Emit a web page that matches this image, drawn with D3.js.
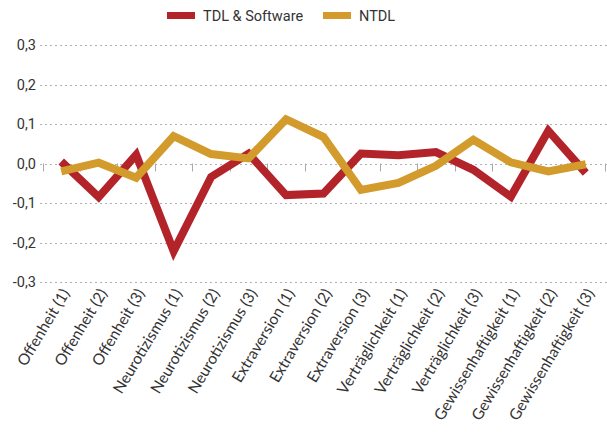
<!DOCTYPE html>
<html>

<head>
  <meta charset="utf-8">
  <script src="https://d3js.org/d3.v7.min.js"></script>
  <style>
    body { margin: 0; background: #fff; }
    text { fill: #333; }
    .narrow { font-family: Roboto, "Open Sans", sans-serif; }
    .cat { font-family: Lato, "Open Sans", sans-serif; }
  </style>
</head>

<body>

  <div id="chart"></div>

  <script>
    const width = 607;
    const height = 434;

    const categories = [
      "Offenheit (1)", "Offenheit (2)", "Offenheit (3)",
      "Neurotizismus (1)", "Neurotizismus (2)", "Neurotizismus (3)",
      "Extraversion (1)", "Extraversion (2)", "Extraversion (3)",
      "Verträglichkeit (1)", "Verträglichkeit (2)", "Verträglichkeit (3)",
      "Gewissenhaftigkeit (1)", "Gewissenhaftigkeit (2)", "Gewissenhaftigkeit (3)"
    ];
    const tdlSoftware = [0.005, -0.085, 0.022, -0.222, -0.034, 0.025, -0.080, -0.076, 0.025, 0.021, 0.029, -0.016, -0.084, 0.083, -0.024];
    const ntdl = [-0.020, 0.002, -0.036, 0.069, 0.024, 0.013, 0.112, 0.067, -0.067, -0.049, -0.006, 0.060, 0.003, -0.020, -0.002];
    const yTicks = [-0.3, -0.2, -0.1, 0, 0.1, 0.2, 0.3];
    const seriesNames = ["TDL & Software", "NTDL"];
    const colors = ["#b3232a", "#d29b2b"];

    const svg = d3.select("#chart")
      .append("svg")
      .attr("width", width)
      .attr("height", height);

    const x = d3.scaleBand()
      .domain(categories)
      .range([42.5, 604.5]);

    const y = d3.scaleLinear()
      .domain([-0.3, 0.3])
      .range([282, 45]);

    // grid lines
    svg.append("g")
      .selectAll("line")
      .data(yTicks)
      .enter().append("line")
      .attr("x1", 40)
      .attr("x2", width)
      .attr("y1", d => Math.round(y(d)) + 0.5)
      .attr("y2", d => Math.round(y(d)) + 0.5)
      .attr("stroke", "#b0b0b0")
      .attr("stroke-width", 1)
      .attr("stroke-dasharray", "2,3");

    // y labels
    svg.append("g")
      .selectAll("text")
      .data(yTicks)
      .enter().append("text")
      .attr("class", "narrow")
      .attr("x", 36)
      .attr("y", d => y(d) + 5)
      .attr("text-anchor", "end")
      .style("font-size", "14.5px")
      .text(d => d3.format(".1f")(d).replace(".", ",").replace("−", "-"));

    // category ticks on the zero line
    const bounds = categories.map(c => x(c)).concat([x.range()[1]]);
    svg.append("g")
      .selectAll("line")
      .data(bounds)
      .enter().append("line")
      .attr("x1", d => Math.round(d) + 0.5)
      .attr("x2", d => Math.round(d) + 0.5)
      .attr("y1", y(0))
      .attr("y2", y(0) + 8)
      .attr("stroke", "#aaa")
      .attr("stroke-width", 1);

    // category labels
    svg.append("g")
      .selectAll("text")
      .data(categories)
      .enter().append("text")
      .attr("class", "cat")
      .attr("text-anchor", "end")
      .attr("transform", d => "translate(" + (x(d) + x.bandwidth() / 2 + 9) + ",293) rotate(-59)")
      .style("font-size", "15.5px")
      .text(d => d);

    // lines
    const line = d3.line()
      .x((d, i) => x(categories[i]) + x.bandwidth() / 2)
      .y(d => y(d));

    [tdlSoftware, ntdl].forEach((vals, k) => {
      svg.append("path")
        .datum(vals)
        .attr("d", line)
        .attr("fill", "none")
        .attr("stroke", colors[k])
        .attr("stroke-width", 8)
        .attr("stroke-linejoin", "miter");
    });

    // legend
    const legX = [167, 323];
    const leg = svg.append("g")
      .selectAll("g")
      .data(seriesNames)
      .enter().append("g")
      .attr("transform", (d, i) => "translate(" + legX[i] + ",0)");

    leg.append("rect")
      .attr("x", 0)
      .attr("y", 12)
      .attr("width", 28)
      .attr("height", 7)
      .attr("fill", (d, i) => colors[i]);

    leg.append("text")
      .attr("class", "narrow")
      .attr("x", 36)
      .attr("y", 21)
      .style("font-size", "14.5px")
      .text(d => d);
  </script>
</body>

</html>
